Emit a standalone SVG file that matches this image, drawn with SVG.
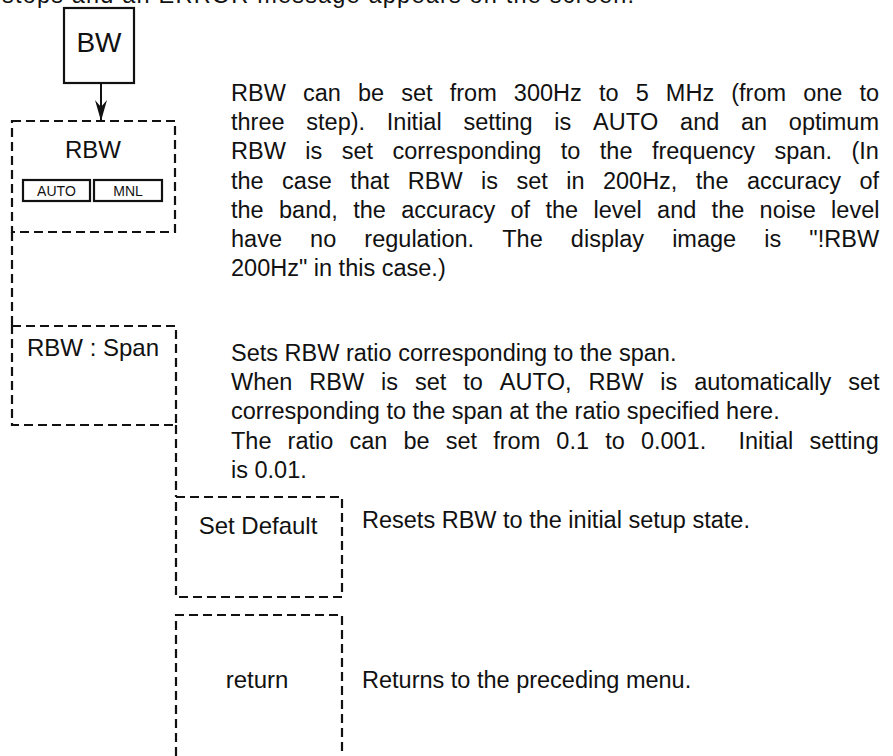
<svg xmlns="http://www.w3.org/2000/svg" width="893" height="756" viewBox="0 0 893 756">
<style>
text{font-family:"Liberation Sans",Arial,sans-serif;fill:#111;font-kerning:none}
.body{font-size:23.5px}
.lbl{font-size:24px;text-anchor:middle}
.dash{fill:none;stroke:#111;stroke-width:2.2;stroke-dasharray:9 5}
.solid{fill:none;stroke:#111;stroke-width:2.2}
.btn{font-size:14px;text-anchor:middle}
</style>
<defs>
<marker id="arr" markerWidth="22" markerHeight="14" refX="21" refY="7" orient="auto" markerUnits="userSpaceOnUse">
<polygon points="21,7 0,1 7,7 0,13" fill="#111"/>
</marker>
</defs>
<text class="body" x="2" y="3" textLength="632">stops and an ERROR message appears on the screen.</text>
<g id="connectors">
<line x1="101" y1="83" x2="101" y2="121" stroke="#111" stroke-width="2" marker-end="url(#arr)"/>
<line class="dash" x1="12" y1="232" x2="12" y2="326"/>
<line class="dash" x1="176" y1="425" x2="176" y2="497"/>
</g>
<g id="node-bw">
<rect class="solid" x="64" y="8" width="70" height="75" stroke-width="2.6"/>
<text x="99" y="52" font-size="28" text-anchor="middle">BW</text>
</g>
<g id="node-rbw">
<path class="dash" d="M12,121 H175 V232 H12 Z"/>
<text class="lbl" x="93" y="158" font-size="25">RBW</text>
<rect class="solid" x="23" y="180" width="67" height="21"/>
<rect class="solid" x="94" y="180" width="68" height="21"/>
<text class="btn" x="56.5" y="196">AUTO</text>
<text class="btn" x="128" y="196">MNL</text>
</g>
<g id="node-rbw-span">
<path class="dash" d="M12,326 H176 V425 H12 Z"/>
<text class="lbl" x="93" y="356">RBW : Span</text>
</g>
<g id="node-set-default">
<path class="dash" d="M176,497 H342 V597 H176 Z"/>
<text class="lbl" x="258" y="534">Set Default</text>
</g>
<g id="node-return">
<path class="dash" d="M176,756 V615 H342 V756"/>
<text class="lbl" x="257" y="688">return</text>
</g>
<g id="desc-rbw">
<text class="body" x="231" y="101" word-spacing="10.6">RBW can be set from 300Hz to 5 MHz (from one to</text>
<text class="body" x="231" y="130" word-spacing="15.2">three step). Initial setting is AUTO and an optimum</text>
<text class="body" x="231" y="159" word-spacing="12.9">RBW is set corresponding to the frequency span. (In</text>
<text class="body" x="231" y="189" word-spacing="11.9">the case that RBW is set in 200Hz, the accuracy of</text>
<text class="body" x="231" y="218" word-spacing="8.8">the band, the accuracy of the level and the noise level</text>
<text class="body" x="231" y="247" word-spacing="21.6">have no regulation. The display image is &quot;!RBW</text>
<text class="body" x="231" y="276">200Hz&quot; in this case.)</text>
</g>
<g id="desc-span">
<text class="body" x="231" y="361">Sets RBW ratio corresponding to the span.</text>
<text class="body" x="231" y="390" word-spacing="10.4">When RBW is set to AUTO, RBW is automatically set</text>
<text class="body" x="231" y="419">corresponding to the span at the ratio specified here.</text>
<text class="body" x="231" y="449" word-spacing="9.6" xml:space="preserve">The ratio can be set from 0.1 to 0.001.  Initial setting</text>
<text class="body" x="231" y="478">is 0.01.</text>
</g>
<g id="desc-default">
<text class="body" x="362" y="528">Resets RBW to the initial setup state.</text>
</g>
<g id="desc-return">
<text class="body" x="362" y="688">Returns to the preceding menu.</text>
</g>
</svg>
